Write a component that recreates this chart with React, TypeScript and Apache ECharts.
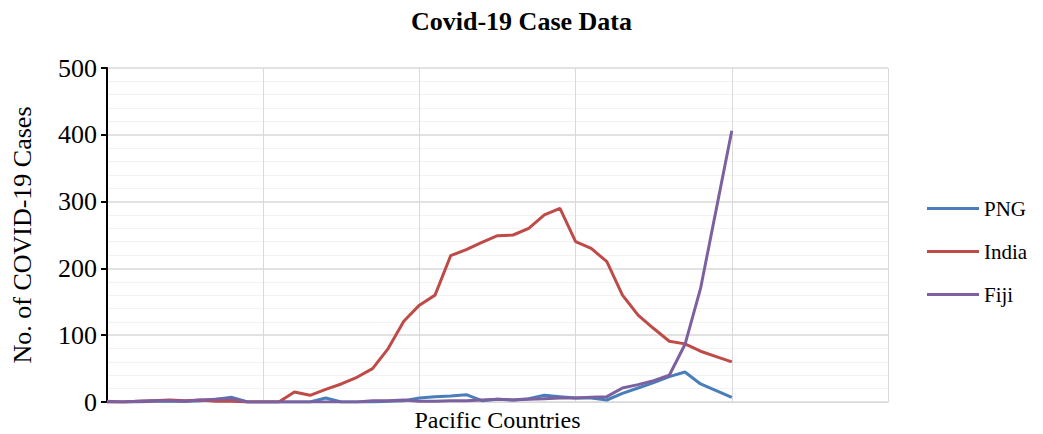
import React, { useEffect, useRef } from "react";
import * as echarts from "echarts";

const categories = [
  "1","2","3","4","5","6","7","8","9","10",
  "11","12","13","14","15","16","17","18","19","20",
  "21","22","23","24","25","26","27","28","29","30",
  "31","32","33","34","35","36","37","38","39","40",
  "41","42","43","44","45","46","47","48","49","50","51",
];

const png = [
  0, 0, 0, 1, 1, 1, 2, 4, 7, 0,
  0, 0, 0, 0, 6, 0, 0, 0, 1, 2,
  6, 8, 9, 11, 2, 4, 3, 5, 10, 8,
  6, 6, 3, 13, 21, 29, 38, 45, 27, 17,
  7,
];

const india = [
  0, 0, 1, 2, 3, 2, 3, 1, 1, 0,
  0, 0, 15, 10, 19, 27, 37, 50, 80, 121,
  145, 160, 219, 228, 239, 249, 250, 260, 280, 290,
  240, 230, 210, 160, 130, 110, 91, 87, 76, 68,
  60,
];

const fiji = [
  1, 0, 1, 2, 2, 1, 3, 4, 5, 0,
  0, 0, 0, 0, 0, 0, 0, 2, 2, 3,
  1, 1, 2, 2, 3, 4, 3, 4, 5, 6,
  6, 7, 8, 21, 26, 32, 40, 86, 170, 288,
  406,
];

const FONT = "'Liberation Serif', 'Times New Roman', serif";

export default function App() {
  const ref = useRef<HTMLDivElement>(null);
  useEffect(() => {
    if (!ref.current) return;
    const chart = echarts.init(ref.current, undefined, { renderer: "svg" });
    const mk = (name: string, data: number[], color: string) => ({
      name,
      type: "line",
      data,
      symbol: "none",
      lineStyle: { color, width: 3 },
      itemStyle: { color },
    });
    chart.setOption({
      animation: false,
      backgroundColor: "#ffffff",
      title: {
        text: "Covid-19 Case Data",
        left: "center",
        top: 0,
        padding: 0,
        textStyle: { fontFamily: FONT, fontWeight: "bold", fontSize: 26, color: "#000" },
      },
      grid: {
        left: 99,
        right: 147,
        top: 60,
        bottom: 32,
        containLabel: false,
        outerBoundsMode: "none",
      },
      legend: {
        orient: "vertical",
        left: 919,
        top: 190,
        padding: 0,
        icon: "rect",
        itemWidth: 52,
        itemHeight: 3,
        itemGap: 22,
        textStyle: { fontFamily: FONT, fontSize: 21, color: "#000" },
        data: ["PNG", "India", "Fiji"],
      },
      xAxis: {
        type: "category",
        data: categories,
        boundaryGap: false,
        name: "Pacific Countries",
        nameLocation: "middle",
        nameGap: 6,
        nameTextStyle: { fontFamily: FONT, fontSize: 24, color: "#000" },
        axisLine: { show: true, lineStyle: { color: "#d9d9d9", width: 1 } },
        axisTick: { show: false },
        axisLabel: { show: false },
        splitLine: {
          show: true,
          interval: (idx: number) => idx > 0 && idx % 10 === 0,
          lineStyle: { color: "#d9d9d9", width: 1 },
        },
      },
      yAxis: {
        type: "value",
        min: 0,
        max: 500,
        interval: 100,
        name: "No. of COVID-19 Cases",
        nameLocation: "middle",
        nameGap: 72,
        nameTextStyle: { fontFamily: FONT, fontSize: 26, color: "#000" },
        axisLine: { show: true, lineStyle: { color: "#000", width: 2 } },
        axisTick: { show: true, inside: false, length: 6, lineStyle: { color: "#000", width: 2 } },
        axisLabel: { fontFamily: FONT, fontSize: 26, color: "#000", margin: 10 },
        splitLine: { show: true, lineStyle: { color: "#d9d9d9", width: 1.5 } },
        minorTick: { show: false, splitNumber: 5 },
        minorSplitLine: { show: true, lineStyle: { color: "#f2f2f2", width: 1 } },
      },
      series: [
        mk("PNG", png, "#4a7ebb"),
        mk("India", india, "#be4b48"),
        mk("Fiji", fiji, "#7d60a0"),
      ],
    });
    return () => chart.dispose();
  }, []);
  return <div ref={ref} style={{ width: 1027, height: 426 }} />;
}
